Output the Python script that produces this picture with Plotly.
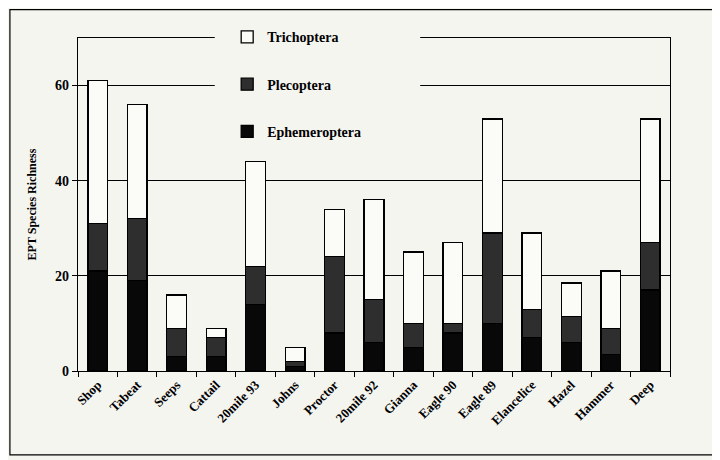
import plotly.graph_objects as go

sites = ["Shop", "Tabeat", "Seeps", "Cattail", "20mile 93", "Johns", "Proctor",
         "20mile 92", "Gianna", "Eagle 90", "Eagle 89", "Elancelice", "Hazel",
         "Hammer", "Deep"]
ephemeroptera = [21, 19, 3, 3, 14, 1, 8, 6, 5, 8, 10, 7, 6, 3.5, 17]
plecoptera = [10, 13, 6, 4, 8, 1, 16, 9, 5, 2, 19, 6, 5.5, 5.5, 10]
trichoptera = [30, 24, 7, 2, 22, 3, 10, 21, 15, 17, 24, 16, 7, 12, 26]

y_ticks = [0, 20, 40, 60]

BG = "#f5f5f0"
serif = "Liberation Serif"

fig = go.Figure()
series = [("Ephemeroptera", ephemeroptera, "#080808", 3),
          ("Plecoptera", plecoptera, "#2e2e2e", 2),
          ("Trichoptera", trichoptera, "#fbfbf7", 1)]
for name, vals, col, rank in series:
    fig.add_trace(go.Bar(
        x=sites, y=vals, name=name, legendgroup=name, legendrank=rank,
        marker=dict(color=col, line=dict(color="#000000", width=1.3)),
        width=0.5,
    ))

fig.update_layout(
    width=720, height=460,
    barmode="stack",
    paper_bgcolor=BG, plot_bgcolor=BG,
    margin=dict(l=70, r=58, t=30, b=97),
    showlegend=True,
    legend=dict(
        x=0.252, xanchor="left", y=1.05, yanchor="top",
        traceorder="grouped", tracegroupgap=26,
        bgcolor="rgba(0,0,0,0)",
        font=dict(family=serif, size=14, color="#000", weight="bold"),
        itemwidth=30,
    ),
    xaxis=dict(
        showline=True, linecolor="#000", linewidth=1.3, mirror=True,
        ticks="outside", tickson="boundaries", ticklen=5, tickcolor="#000",
        tickangle=-45,
        tickfont=dict(family=serif, size=13, color="#000", weight="bold"),
        showgrid=False,
    ),
    yaxis=dict(
        range=[0, 70], tickvals=y_ticks,
        showline=True, linecolor="#000", linewidth=1.3, mirror=True,
        ticks="outside", ticklen=5, tickcolor="#000",
        showgrid=True, gridcolor="#000", gridwidth=1.2,
        zeroline=False,
        tickfont=dict(family=serif, size=14, color="#000", weight="bold"),
        title=dict(text="EPT Species Richness", standoff=15,
                   font=dict(family=serif, size=12, color="#000", weight="bold")),
    ),
    shapes=[
        dict(type="rect", xref="paper", yref="paper",
             x0=0.231, x1=0.578, y0=0.71, y1=1.01,
             fillcolor=BG, line=dict(width=0), layer="above"),
        dict(type="rect", xref="paper", yref="paper",
             x0=-0.115, x1=1.0726, y0=-0.252, y1=1.085,
             fillcolor="rgba(0,0,0,0)", line=dict(color="#000", width=1.2)),
    ],
)

fig.write_html("out.html")
